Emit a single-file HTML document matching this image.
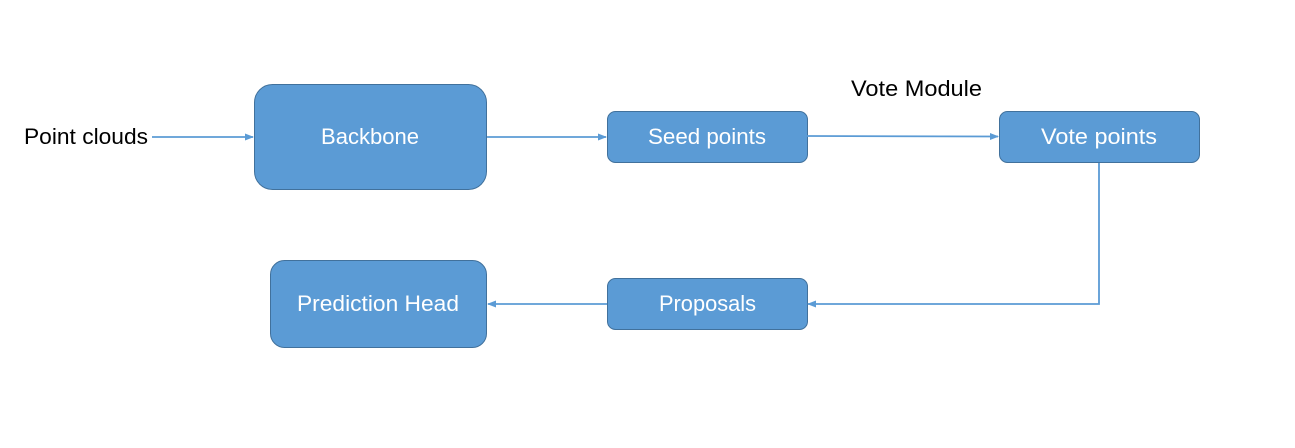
<!DOCTYPE html>
<html><head><style>
body{margin:0;background:#fff;}
svg text{font-family:"Liberation Sans",sans-serif;}
</style></head><body>
<svg width="1295" height="443" viewBox="0 0 1295 443" xmlns="http://www.w3.org/2000/svg">
<defs><marker id="a" markerWidth="9" markerHeight="9" refX="8" refY="4.5" orient="auto" markerUnits="userSpaceOnUse"><path d="M0,1 L9,4.5 L0,8 Z" fill="#5b9bd5"/></marker></defs>
<g fill="#5b9bd5" stroke="#41719c" stroke-width="1">
<rect x="254.5" y="84.5" width="232" height="105" rx="18"/>
<rect x="607.5" y="111.5" width="200" height="51" rx="8"/>
<rect x="999.5" y="111.5" width="200" height="51" rx="8"/>
<rect x="607.5" y="278.5" width="200" height="51" rx="8"/>
<rect x="270.5" y="260.5" width="216" height="87" rx="14"/>
</g>
<g stroke="#5b9bd5" stroke-width="1.8" fill="none" marker-end="url(#a)">
<line x1="152" y1="137" x2="253" y2="137"/>
<line x1="487" y1="137" x2="606" y2="137"/>
<line x1="807" y1="136" x2="998" y2="136.5"/>
<polyline points="1099,163 1099,304 808,304"/>
<line x1="607" y1="304" x2="488" y2="304"/>
</g>
<g fill="#fff" font-size="22">
<text x="321" y="144" textLength="98" lengthAdjust="spacingAndGlyphs">Backbone</text>
<text x="648" y="144" textLength="118" lengthAdjust="spacingAndGlyphs">Seed points</text>
<text x="1041" y="144" textLength="116" lengthAdjust="spacingAndGlyphs">Vote points</text>
<text x="659" y="311" textLength="97" lengthAdjust="spacingAndGlyphs">Proposals</text>
<text x="297" y="311" textLength="162" lengthAdjust="spacingAndGlyphs">Prediction Head</text>
</g>
<g fill="#000" font-size="22">
<text x="24" y="144" textLength="124" lengthAdjust="spacingAndGlyphs">Point clouds</text>
<text x="851" y="96" textLength="131" lengthAdjust="spacingAndGlyphs">Vote Module</text>
</g>
</svg>
</body></html>
